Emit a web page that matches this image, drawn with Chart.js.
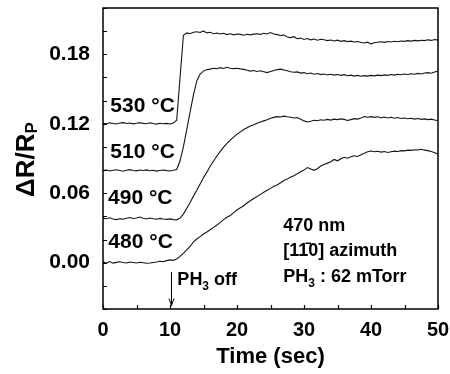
<!DOCTYPE html>
<html><head><meta charset="utf-8">
<script src="https://cdn.jsdelivr.net/npm/chart.js@4/dist/chart.umd.min.js"></script>
<style>html,body{margin:0;padding:0;background:#fff}#wrap{width:450px;height:374px;position:relative}</style>
</head><body><div id="wrap"><canvas id="c" width="450" height="374"></canvas></div>
<script>
// ---- data ----
const timeSec = [
 0,0.5,1,1.5,2,2.5,3,3.5,4,4.5,
 5,5.5,6,6.5,7,7.5,8,8.5,9,9.5,
 10,10.5,11,11.5,12,12.5,13,13.5,14,14.5,
 15,15.5,16,16.5,17,17.5,18,18.5,19,19.5,
 20,20.5,21,21.5,22,22.5,23,23.5,24,24.5,
 25,25.5,26,26.5,27,27.5,28,28.5,29,29.5,
 30,30.5,31,31.5,32,32.5,33,33.5,34,34.5,
 35,35.5,36,36.5,37,37.5,38,38.5,39,39.5,
 40,40.5,41,41.5,42,42.5,43,43.5,44,44.5,
 45,45.5,46,46.5,47,47.5,48,48.5,49,49.5,
 50];
const dR530 = [
 0.1205,0.1200,0.1208,0.1203,0.1198,0.1206,0.1210,0.1202,0.1207,0.1199,
 0.1204,0.1210,0.1203,0.1200,0.1208,0.1202,0.1197,0.1205,0.1200,0.1203,
 0.1198,0.1206,0.1230,0.1600,0.1965,0.1985,0.1978,0.1990,0.1995,0.1988,
 0.2002,0.1985,0.1990,0.1978,0.1984,0.1975,0.1982,0.1970,0.1978,0.1968,
 0.1975,0.1972,0.1965,0.1973,0.1968,0.1974,0.1978,0.1972,0.1982,0.1976,
 0.1988,0.1975,0.1970,0.1962,0.1966,0.1950,0.1944,0.1952,0.1935,0.1940,
 0.1928,0.1936,0.1925,0.1932,0.1922,0.1930,0.1926,0.1918,0.1924,0.1915,
 0.1922,0.1912,0.1918,0.1910,0.1914,0.1906,0.1910,0.1902,0.1898,0.1905,
 0.1890,0.1900,0.1904,0.1908,0.1903,0.1910,0.1906,0.1913,0.1908,0.1915,
 0.1912,0.1918,0.1914,0.1920,0.1916,0.1922,0.1918,0.1925,0.1920,0.1928,
 0.1922];
const dR510 = [
 0.0795,0.0800,0.0792,0.0798,0.0803,0.0796,0.0790,0.0799,0.0804,0.0797,
 0.0793,0.0800,0.0796,0.0802,0.0794,0.0799,0.0791,0.0797,0.0801,0.0795,
 0.0792,0.0798,0.0805,0.0880,0.1000,0.1150,0.1300,0.1450,0.1570,0.1630,
 0.1655,0.1668,0.1672,0.1680,0.1675,0.1685,0.1678,0.1688,0.1680,0.1676,
 0.1680,0.1674,0.1670,0.1662,0.1655,0.1660,0.1652,0.1658,0.1650,0.1642,
 0.1652,0.1660,0.1668,0.1672,0.1665,0.1658,0.1650,0.1645,0.1648,0.1638,
 0.1642,0.1632,0.1638,0.1628,0.1634,0.1625,0.1630,0.1622,0.1628,0.1620,
 0.1626,0.1618,0.1624,0.1615,0.1620,0.1612,0.1618,0.1610,0.1616,0.1612,
 0.1618,0.1614,0.1620,0.1616,0.1622,0.1618,0.1625,0.1620,0.1628,0.1624,
 0.1630,0.1626,0.1632,0.1628,0.1635,0.1630,0.1638,0.1642,0.1636,0.1648,
 0.1655];
const dR490 = [
 0.0385,0.0380,0.0388,0.0378,0.0372,0.0380,0.0376,0.0384,0.0390,0.0382,
 0.0386,0.0394,0.0384,0.0378,0.0386,0.0380,0.0376,0.0383,0.0378,0.0374,
 0.0378,0.0372,0.0370,0.0385,0.0420,0.0470,0.0520,0.0575,0.0625,0.0680,
 0.0735,0.0782,0.0833,0.0878,0.0922,0.0962,0.0998,0.1030,0.1058,0.1085,
 0.1110,0.1130,0.1150,0.1165,0.1180,0.1192,0.1205,0.1215,0.1225,0.1235,
 0.1248,0.1255,0.1262,0.1258,0.1266,0.1260,0.1256,0.1250,0.1254,0.1240,
 0.1225,0.1215,0.1222,0.1230,0.1226,0.1235,0.1230,0.1238,0.1232,0.1240,
 0.1236,0.1242,0.1238,0.1228,0.1236,0.1244,0.1240,0.1250,0.1262,0.1256,
 0.1262,0.1255,0.1260,0.1252,0.1258,0.1250,0.1256,0.1248,0.1254,0.1246,
 0.1250,0.1244,0.1248,0.1240,0.1245,0.1238,0.1242,0.1236,0.1240,0.1232,
 0.1226];
const dR480 = [
 0.0005,-0.0002,0.0010,-0.0004,0.0003,0.0008,0.0001,-0.0003,0.0006,0.0002,
 -0.0002,0.0004,0.0000,-0.0005,-0.0003,0.0002,0.0006,0.0012,0.0008,0.0018,
 0.0024,0.0020,0.0032,0.0055,0.0080,0.0110,0.0140,0.0180,0.0205,0.0225,
 0.0248,0.0265,0.0285,0.0305,0.0325,0.0348,0.0372,0.0392,0.0408,0.0432,
 0.0455,0.0474,0.0492,0.0516,0.0535,0.0555,0.0572,0.0590,0.0608,0.0625,
 0.0642,0.0660,0.0672,0.0690,0.0710,0.0722,0.0740,0.0752,0.0768,0.0785,
 0.0800,0.0822,0.0810,0.0798,0.0812,0.0835,0.0848,0.0860,0.0872,0.0892,
 0.0880,0.0898,0.0910,0.0902,0.0915,0.0924,0.0918,0.0932,0.0945,0.0958,
 0.0965,0.0958,0.0962,0.0955,0.0960,0.0952,0.0958,0.0964,0.0960,0.0968,
 0.0966,0.0972,0.0970,0.0976,0.0974,0.0980,0.0972,0.0968,0.0960,0.0950,
 0.0940];
const seriesLabels = ['530 °C','510 °C','490 °C','480 °C'];
const xTickLabels = [0,10,20,30,40,50];
const yTickLabels = [0.00,0.06,0.12,0.18];
const xMinorTicks = [0,5,10,15,20,25,30,35,40,45,50];
const yMinorTicks = [-0.04,-0.02,0,0.02,0.04,0.06,0.08,0.10,0.12,0.14,0.16,0.18,0.20,0.22];
const xTitle = 'Time (sec)';
const yTitleMain = 'ΔR/R', yTitleSub = 'P';
const noteLines = ['470 nm','[11\u03040] azimuth'];
const phOffTime = 10.1;

// ---- chart ----
const FONT = '"Liberation Sans", Arial, sans-serif';
const series = [dR530, dR510, dR490, dR480];
const datasets = series.map((s,i)=>({
  label: seriesLabels[i],
  data: timeSec.map((t,k)=>({x:t,y:s[k]})),
  borderColor:'#151515', borderWidth:1.1, pointRadius:0, tension:0, fill:false
}));

// label anchor positions (data coords: time, value)
const labelPos = [[1.1,0.1298],[1.1,0.0908],[0.75,0.0505],[0.8,0.0125]];

const deco = {
  id:'deco',
  afterDraw(chart){
    const ctx = chart.ctx, xs = chart.scales.x, ys = chart.scales.y;
    const a = chart.chartArea;
    ctx.save();
    // frame
    ctx.strokeStyle='#000'; ctx.lineWidth=1.5;
    ctx.strokeRect(a.left, a.top, a.right-a.left, a.bottom-a.top);
    // inner ticks
    ctx.lineWidth=1.2;
    ctx.beginPath();
    xMinorTicks.forEach(v=>{const p=Math.round(xs.getPixelForValue(v))+0.5; ctx.moveTo(p,a.bottom); ctx.lineTo(p,a.bottom-4);});
    yMinorTicks.forEach(v=>{const p=Math.round(ys.getPixelForValue(v))+0.5; ctx.moveTo(a.left,p); ctx.lineTo(a.left+4,p);});
    ctx.stroke();
    // series labels
    ctx.fillStyle='#000';
    ctx.font='bold 21px '+FONT; ctx.textBaseline='alphabetic'; ctx.textAlign='left';
    seriesLabels.forEach((s,i)=>{
      const [t,v]=labelPos[i];
      ctx.fillText(s, xs.getPixelForValue(t), ys.getPixelForValue(v));
    });
    // note block
    ctx.font='bold 18px '+FONT;
    const nx = xs.getPixelForValue(26.9);
    ctx.fillText(noteLines[0], nx, ys.getPixelForValue(0.027));
    ctx.fillText(noteLines[1], nx, ys.getPixelForValue(0.0055));
    // PH3 : 62 mTorr
    let y3 = ys.getPixelForValue(-0.0163), x3 = nx;
    ctx.fillText('PH', x3, y3); x3 += ctx.measureText('PH').width;
    ctx.font='bold 12px '+FONT; ctx.fillText('3', x3, y3+5); x3 += ctx.measureText('3').width;
    ctx.font='bold 18px '+FONT; ctx.fillText(' : 62 mTorr', x3, y3);
    // PH3 off
    let xo = xs.getPixelForValue(11.1), yo = ys.getPixelForValue(-0.0195);
    ctx.fillText('PH', xo, yo); xo += ctx.measureText('PH').width;
    ctx.font='bold 12px '+FONT; ctx.fillText('3', xo, yo+5); xo += ctx.measureText('3').width;
    ctx.font='bold 18px '+FONT; ctx.fillText(' off', xo, yo);
    // arrow
    const ax = Math.round(xs.getPixelForValue(phOffTime))+0.5;
    const ay1 = ys.getPixelForValue(-0.008), ay2 = ys.getPixelForValue(-0.037);
    ctx.lineWidth=1; ctx.beginPath(); ctx.moveTo(ax,ay1); ctx.lineTo(ax,ay2); ctx.stroke();
    ctx.beginPath(); ctx.moveTo(ax-2.5,ay2-7); ctx.lineTo(ax,ay2); ctx.lineTo(ax+2.5,ay2-7); ctx.stroke();
    // y title
    ctx.save();
    ctx.translate(34, (a.top+a.bottom)/2 + 1);
    ctx.rotate(-Math.PI/2);
    ctx.font='bold 26px '+FONT;
    const w1 = ctx.measureText(yTitleMain).width;
    ctx.font='bold 17px '+FONT;
    const w2 = ctx.measureText(yTitleSub).width;
    const x0 = -(w1+w2)/2;
    ctx.font='bold 26px '+FONT; ctx.fillText(yTitleMain, x0, 0);
    ctx.font='bold 17px '+FONT; ctx.fillText(yTitleSub, x0+w1, 3);
    ctx.restore();
    ctx.restore();
  }
};

new Chart(document.getElementById('c'), {
  type:'line',
  data:{datasets},
  options:{
    responsive:false, animation:false, devicePixelRatio:1,
    layout:{padding:{left:0,top:8,right:12,bottom:0}},
    plugins:{legend:{display:false},tooltip:{enabled:false}},
    scales:{
      x:{type:'linear',min:0,max:50,
        grid:{display:false,drawTicks:false},border:{display:false},
        afterBuildTicks:s=>{s.ticks=xTickLabels.map(v=>({value:v}));},
        afterFit:s=>{s.height=65;s.paddingLeft=0;s.paddingRight=0;},
        ticks:{color:'#000',font:{family:FONT,size:20,weight:'bold'},padding:9,maxRotation:0,callback:v=>String(v)},
        title:{display:true,text:xTitle,color:'#000',font:{family:FONT,size:22,weight:'bold'},padding:{top:0,bottom:4}}
      },
      y:{type:'linear',min:-0.04,max:0.22,
        grid:{display:false,drawTicks:false},border:{display:false},
        afterBuildTicks:s=>{s.ticks=yTickLabels.map(v=>({value:v}));},
        afterFit:s=>{s.width=103;s.paddingTop=0;s.paddingBottom=0;},
        ticks:{color:'#000',font:{family:FONT,size:21,weight:'bold'},padding:13,callback:v=>Number(v).toFixed(2)}
      }
    }
  },
  plugins:[deco]
});
</script></body></html>
